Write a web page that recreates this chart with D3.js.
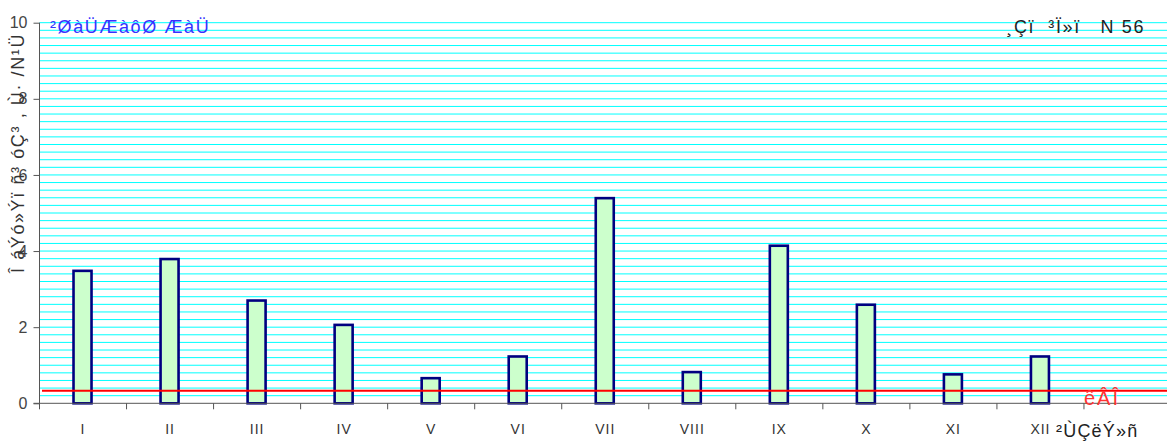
<!DOCTYPE html>
<html><head><meta charset="utf-8">
<script src="https://cdn.jsdelivr.net/npm/d3@7"></script>
<style>body{margin:0;background:#fff}svg{display:block;font-family:"Liberation Sans",Arial,sans-serif}</style>
</head><body>
<svg id="c" width="1167" height="441"></svg>
<script>
const categories = ["I","II","III","IV","V","VI","VII","VIII","IX","X","XI","XII",""];
const values = [3.48,3.79,2.70,2.06,0.66,1.23,5.39,0.82,4.14,2.59,0.76,1.23];
const limitValue = 0.33;
const yTicks = [0,2,4,6,8,10];
const title = "²ØàÜÆàôØ ÆàÜ";
const station = "¸Çï ³Ï»ï  N 56";
const yTitle = "Î áÝó»Ýï ñ³ óÇ³ , Ù· /N¹Ü";
const xTitle = "²ÙÇëÝ»ñ";
const limitLabel = "êÂÎ";

(function(){
const svg = d3.select("#c");
const pl = 39.5, pr = 1171, pt = 22.7, pb = 403.3;
const x = d3.scaleBand().domain(categories).range([pl, pr]).paddingInner(0).paddingOuter(0);
const y = d3.scaleLinear().domain([0,10]).range([pb, pt]);

const grid = d3.range(0.2, 10.001, 0.2);
svg.append("g").selectAll("line").data(grid).join("line")
  .attr("x1", pl).attr("x2", 1167)
  .attr("y1", d=>y(d)).attr("y2", d=>y(d))
  .attr("stroke", "#00ffff").attr("stroke-width", 1);

const bw = 18;
svg.append("g").selectAll("rect").data(values).join("rect")
  .attr("x", (d,i)=>x(categories[i]) + x.bandwidth()/2 - bw/2 - 0.5)
  .attr("y", d=>y(d))
  .attr("width", bw)
  .attr("height", d=>pb - y(d))
  .attr("fill", "#ccffcc").attr("stroke", "#000080").attr("stroke-width", 2.6);

svg.append("line").attr("x1", 42).attr("x2", 1167)
  .attr("y1", y(limitValue)).attr("y2", y(limitValue))
  .attr("stroke", "#ff0000").attr("stroke-width", 2);

const xa = svg.append("g").attr("transform", `translate(0,${pb})`)
  .call(d3.axisBottom(x).tickSize(0).tickFormat(""));
xa.select(".domain").attr("stroke", "#555").attr("d", `M${pl-6},0H1167`);
svg.append("g").selectAll("line").data(categories).join("line")
  .attr("x1", d=>x(d)).attr("x2", d=>x(d)).attr("y1", pb).attr("y2", pb+6)
  .attr("stroke", "#555");
svg.append("g").selectAll("text").data(categories.slice(0,12)).join("text")
  .attr("x", d=>x(d)+x.bandwidth()/2).attr("y", 434)
  .attr("text-anchor","middle").attr("font-size", 14).attr("letter-spacing", 1).attr("fill", "#333").text(d=>d);

const ya = svg.append("g").attr("transform", `translate(${pl},0)`)
  .call(d3.axisLeft(y).tickValues(yTicks).tickSize(6).tickPadding(6).tickFormat(d3.format("d")));
ya.select(".domain").attr("stroke", "#555").attr("d", `M0,${pt}V${pb}`);
ya.selectAll(".tick line").attr("stroke", "#555");
ya.selectAll(".tick text").attr("font-size", 16).attr("fill", "#444").attr("font-family", "Liberation Sans, Arial, sans-serif");

svg.append("text").attr("x", 50).attr("y", 33).attr("font-size", 18).attr("letter-spacing", 1.6).attr("fill", "#3333ff").text(title);
svg.append("text").attr("x", 1145).attr("y", 33).attr("text-anchor","end").attr("font-size", 18).attr("letter-spacing", 1.6).attr("fill", "#222").attr("xml:space","preserve").style("white-space","pre").text("¸Çï  ³Ï»ï   N 56");
svg.append("text").attr("transform", "translate(24,153) rotate(-90)").attr("text-anchor","middle")
  .attr("font-size", 18).attr("letter-spacing", 1.6).attr("fill", "#333").text(yTitle);
svg.append("text").attr("x", 1056).attr("y", 437).attr("font-size", 18).attr("letter-spacing", 1.2).attr("fill", "#222").text(xTitle);
svg.append("text").attr("x", 1084).attr("y", 405).attr("font-size", 20).attr("letter-spacing", 2).attr("fill", "#ff3333").text(limitLabel);
})();
</script>
</body></html>
